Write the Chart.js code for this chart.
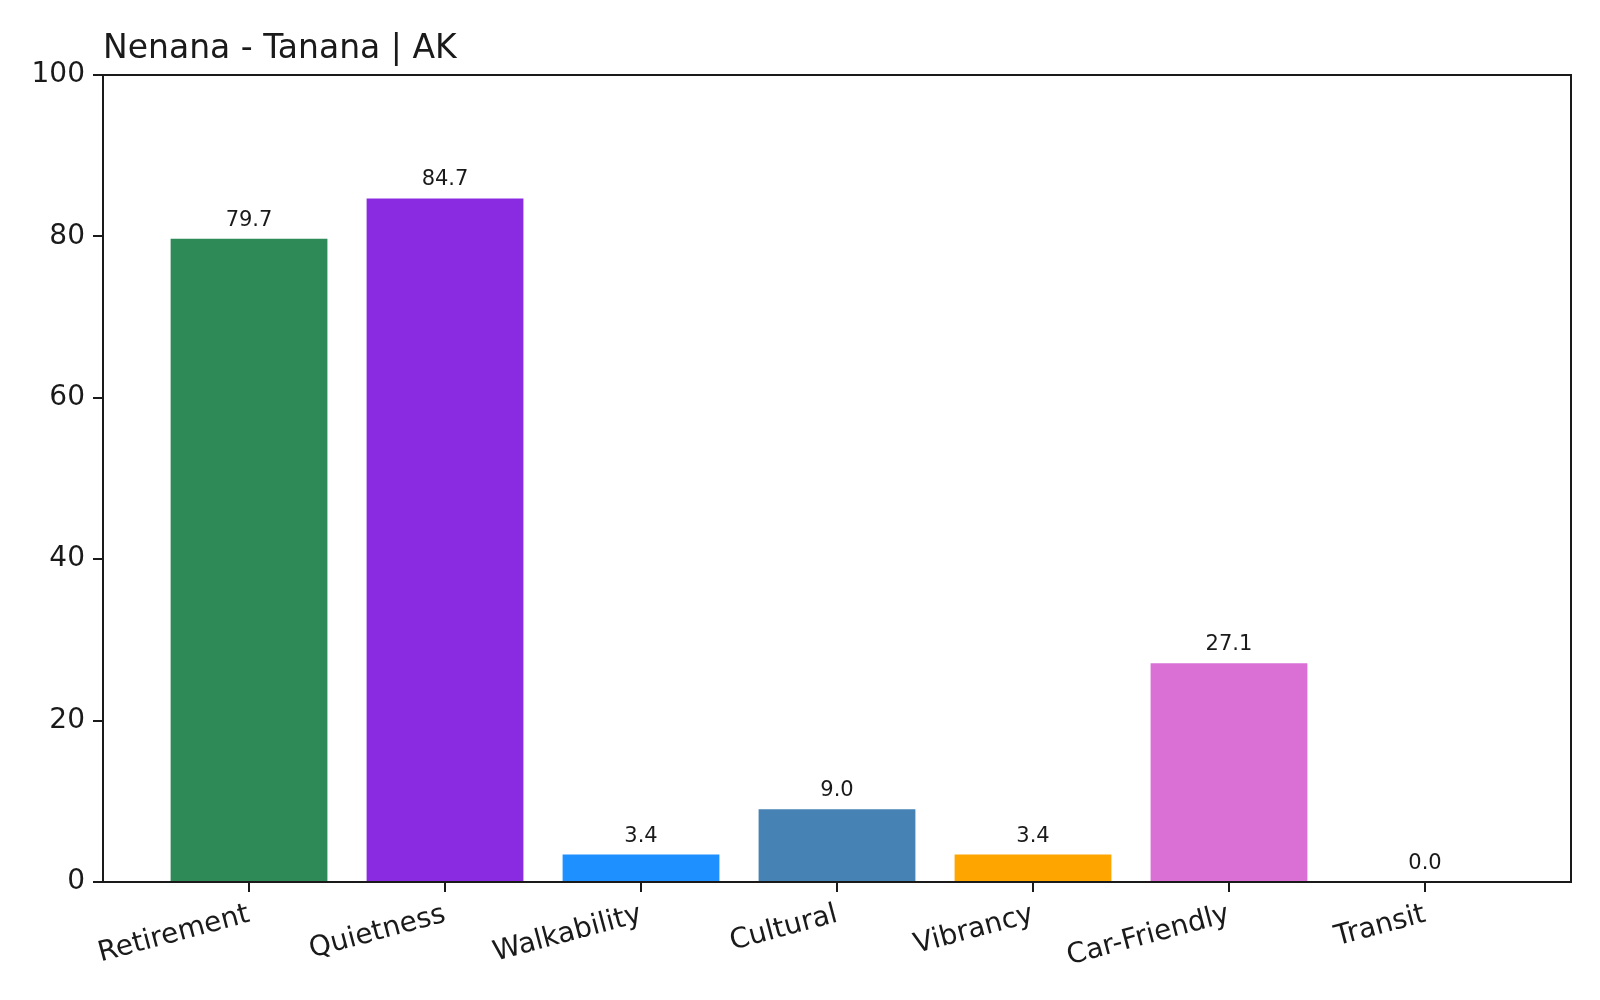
<!DOCTYPE html>
<html>
<head>
<meta charset="utf-8">
<script src="https://cdn.jsdelivr.net/npm/chart.js@4.4.1/dist/chart.umd.min.js"></script>
<style>
    html, body { margin: 0; padding: 0; background: #fff; }
    #wrap { width: 1600px; height: 1000px; }
</style>
</head>
<body>
<div id="wrap"><canvas id="grafica" width="1600" height="1000"></canvas></div>
<script>
    const titulo = 'Nenana - Tanana | AK';
    const categorias = ['Retirement', 'Quietness', 'Walkability', 'Cultural', 'Vibrancy', 'Car-Friendly', 'Transit'];
    const valores = [79.7, 84.7, 3.4, 9.0, 3.4, 27.1, 0.0];
    const colores = ['#2E8B57', '#8A2BE2', '#1E90FF', '#4682B4', '#FFA500', '#DA70D6', '#808080'];
    const ticksY = [0, 20, 40, 60, 80, 100];

    const tinta = '#1a1a1a';
    const fuente = 'DejaVu Sans';

    // titulo arriba a la izquierda + marco completo + valores sobre barras
    const extras = {
        id: 'extras',
        afterDatasetsDraw(chart) {
            const ctx = chart.ctx;
            const area = chart.chartArea;
            ctx.save();

            ctx.strokeStyle = tinta;
            ctx.lineWidth = 2;
            ctx.strokeRect(area.left, area.top, area.right - area.left, area.bottom - area.top);

            ctx.fillStyle = tinta;
            ctx.font = '21px "' + fuente + '"';
            ctx.textAlign = 'center';
            ctx.textBaseline = 'bottom';
            chart.getDatasetMeta(0).data.forEach((bar, i) => {
                ctx.fillText(valores[i].toFixed(1), bar.x, bar.y - 8);
            });

            ctx.font = '33px "' + fuente + '"';
            ctx.textAlign = 'left';
            ctx.textBaseline = 'alphabetic';
            ctx.fillText(titulo, area.left, 58);
            ctx.restore();
        }
    };

    new Chart(document.getElementById('grafica'), {
        type: 'bar',
        data: {
            datasets: [{
                data: valores.map((v, i) => ({ x: i, y: v })),
                backgroundColor: colores,
                borderWidth: 0,
                categoryPercentage: 1,
                barPercentage: 0.8
            }]
        },
        options: {
            responsive: false,
            animation: false,
            devicePixelRatio: 1,
            layout: { padding: { top: 75, right: 29, left: 0, bottom: 0 } },
            plugins: {
                legend: { display: false },
                tooltip: { enabled: false }
            },
            scales: {
                x: {
                    type: 'linear',
                    offset: false,
                    min: -0.745,
                    max: 6.745,
                    afterBuildTicks: scale => {
                        scale.ticks = categorias.map((c, i) => ({ value: i }));
                    },
                    afterFit: scale => { scale.height = 118; },
                    grid: {
                        offset: false,
                        drawOnChartArea: false,
                        drawTicks: true,
                        tickLength: 10,
                        color: tinta,
                        lineWidth: 2
                    },
                    border: { display: true, color: tinta, width: 2 },
                    ticks: {
                        autoSkip: false,
                        minRotation: 15,
                        maxRotation: 15,
                        padding: 6,
                        color: tinta,
                        font: { family: fuente, size: 28 },
                        callback: v => categorias[v]
                    }
                },
                y: {
                    min: 0,
                    max: 100,
                    afterBuildTicks: scale => {
                        scale.ticks = ticksY.map(v => ({ value: v }));
                    },
                    afterFit: scale => { scale.width = 103; },
                    grid: {
                        drawOnChartArea: false,
                        drawTicks: true,
                        tickLength: 10,
                        color: tinta,
                        lineWidth: 2
                    },
                    border: { display: true, color: tinta, width: 2 },
                    ticks: {
                        padding: 8,
                        color: tinta,
                        font: { family: fuente, size: 28 }
                    }
                }
            }
        },
        plugins: [extras]
    });
</script>
</body>
</html>
